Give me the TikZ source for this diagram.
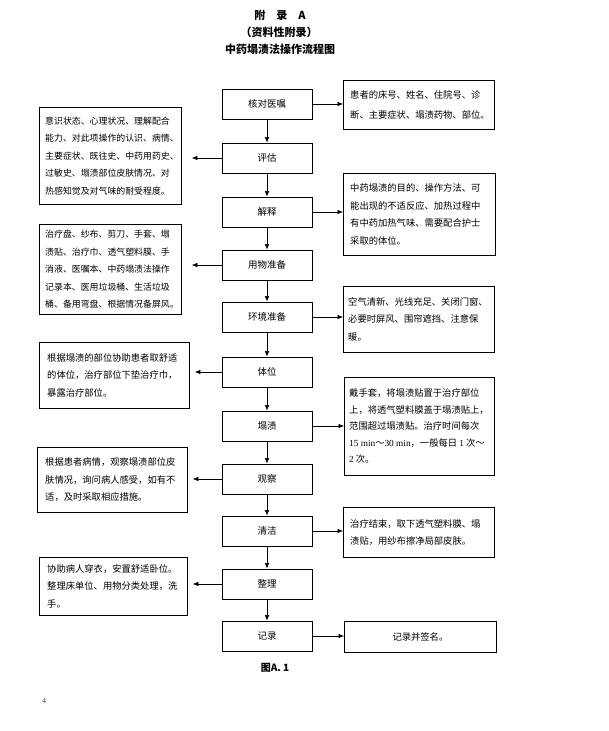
\documentclass[tikz,border=0pt]{standalone}
\usepackage{fontspec}
\setmainfont{Liberation Serif}
\newfontfamily\cjk{Noto Sans CJK SC}
\newfontfamily\lat{Liberation Serif}
\usetikzlibrary{arrows.meta}
\begin{document}
\begin{tikzpicture}[x=1pt,y=-1pt,
  box/.style={draw=black, line width=0.8pt, inner sep=0pt},
  core/.style={box, minimum width=90pt, minimum height=30pt, font=\cjk\fontsize{9.5}{11}\selectfont},
  txt/.style={align=left, inner sep=0pt, font=\cjk\fontsize{9.3}{17.5}\selectfont},
  txtn/.style={align=left, inner sep=0pt, font=\cjk\fontsize{8.9}{17.5}\selectfont},
  arr/.style={-{Latex[length=5.5pt,width=4.5pt]}, line width=0.6pt},
  ttl/.style={font=\cjk\bfseries\fontsize{11}{13}\selectfont, inner sep=0pt}]
\useasboundingbox (0,0) rectangle (608,731);
\fill[white] (0,0) rectangle (608,731);

% title
\node[ttl] (t1) at (280,15) {附\hspace{1em}录\hspace{1em}A};
\node[ttl] (t2) at (279,32) {（资料性附录）};
\node[ttl] (t3) at (280,49) {中药塌渍法操作流程图};

% core steps
\node[core] (C1) at (267,104) {核对医嘱};
\node[core] (C2) at (267,158) {评估};
\node[core] (C3) at (267,212) {解释};
\node[core] (C4) at (267,265) {用物准备};
\node[core] (C5) at (267,317) {环境准备};
\node[core] (C6) at (267,372) {体位};
\node[core] (C7) at (267,426) {塌渍};
\node[core] (C8) at (267,479) {观察};
\node[core] (C9) at (267,531) {清洁};
\node[core] (C10) at (267,584) {整理};
\node[core] (C11) at (267,636) {记录};

\foreach \a/\b in {C1/C2,C2/C3,C3/C4,C4/C5,C5/C6,C6/C7,C7/C8,C8/C9,C9/C10,C10/C11}
  \draw[arr] (\a.south) -- (\b.north);

% left boxes
\node[box, minimum width=142pt, minimum height=97pt, anchor=north west] (L1) at (39,107) {};
\node[txtn, anchor=west] (L1t) at ([xshift=6pt]L1.west) {意识状态、心理状况、理解配合\\能力、对此项操作的认识、病情、\\主要症状、既往史、中药用药史、\\过敏史、塌渍部位皮肤情况、对\\热感知觉及对气味的耐受程度。};

\node[box, minimum width=142pt, minimum height=90pt, anchor=north west] (L2) at (39,224) {};
\node[txtn, anchor=west] (L2t) at ([xshift=6pt]L2.west) {治疗盘、纱布、剪刀、手套、塌\\渍贴、治疗巾、透气塑料膜、手\\消液、医嘱本、中药塌渍法操作\\记录本、医用垃圾桶、生活垃圾\\桶、备用弯盘、根据情况备屏风。};

\node[box, minimum width=150pt, minimum height=66pt, anchor=north west] (L3) at (39,342) {};
\node[txt, anchor=west] (L3t) at ([xshift=8pt]L3.west) {根据塌渍的部位协助患者取舒适\\的体位，治疗部位下垫治疗巾，\\暴露治疗部位。};

\node[box, minimum width=150pt, minimum height=65pt, anchor=north west] (L4) at (37,447) {};
\node[txt, anchor=west] (L4t) at ([xshift=8pt]L4.west) {根据患者病情，观察塌渍部位皮\\肤情况，询问病人感受，如有不\\适，及时采取相应措施。};

\node[box, minimum width=148pt, minimum height=58pt, anchor=north west] (L5) at (39,557) {};
\node[txt, anchor=west] (L5t) at ([xshift=8pt]L5.west) {协助病人穿衣，安置舒适卧位。\\整理床单位、用物分类处理，洗\\手。};

% right boxes
\node[box, minimum width=151pt, minimum height=49pt, anchor=north west] (R1) at (343,80) {};
\node[txt, anchor=west, font=\cjk\fontsize{9.3}{20.5}\selectfont] (R1t) at ([xshift=7pt]R1.west) {患者的床号、姓名、住院号、诊\\断、主要症状、塌渍药物、部位。};

\node[box, minimum width=152pt, minimum height=82pt, anchor=north west] (R2) at (343,173) {};
\node[txt, anchor=west] (R2t) at ([xshift=7pt]R2.west) {中药塌渍的目的、操作方法、可\\能出现的不适反应、加热过程中\\有中药加热气味、需要配合护士\\采取的体位。};

\node[box, minimum width=151pt, minimum height=66pt, anchor=north west] (R3) at (343,286) {};
\node[txt, anchor=west] (R3t) at ([xshift=5pt]R3.west) {空气清新、光线充足、关闭门窗、\\必要时屏风、围帘遮挡、注意保\\暖。};

\node[box, minimum width=150pt, minimum height=98pt, anchor=north west] (R4) at (344,377) {};
\node[txt, anchor=west, font=\cjk\fontsize{9.3}{16.5}\selectfont] (R4t) at ([xshift=5pt]R4.west) {戴手套，将塌渍贴置于治疗部位\\上，将透气塑料膜盖于塌渍贴上，\\范围超过塌渍贴。治疗时间每次\\{\lat 15 min}～{\lat 30 min}，一般每日 {\lat 1} 次～\\{\lat 2} 次。};

\node[box, minimum width=151pt, minimum height=50pt, anchor=north west] (R5) at (343,507) {};
\node[txt, anchor=west] (R5t) at ([xshift=7pt]R5.west) {治疗结束，取下透气塑料膜、塌\\渍贴，用纱布擦净局部皮肤。};

\node[box, minimum width=152pt, minimum height=31pt, anchor=north west, font=\cjk\fontsize{9.3}{11}\selectfont] (R6) at (344,621) {记录并签名。};

% connectors to side boxes
\draw[arr] (C1.east) -- (C1.east -| R1.west);
\draw[arr] (C3.east) -- (C3.east -| R2.west);
\draw[arr] (C5.east) -- (C5.east -| R3.west);
\draw[arr] (C7.east) -- (C7.east -| R4.west);
\draw[arr] (C9.east) -- (C9.east -| R5.west);
\draw[arr] (C11.east) -- (C11.east -| R6.west);

\draw[arr, shorten >=10pt] (C2.west) -- (C2.west -| L1.east);
\draw[arr, shorten >=10pt] (C4.west) -- (C4.west -| L2.east);
\draw[arr, shorten >=5pt] (C6.west) -- (C6.west -| L3.east);
\draw[arr, shorten >=5pt] (C8.west) -- (C8.west -| L4.east);
\draw[arr, shorten >=5pt] (C10.west) -- (C10.west -| L5.east);

% caption and page number
\node[font=\cjk\bfseries\fontsize{10}{12}\selectfont, inner sep=0pt] (cap) at (275,668) {图A. 1};
\node[font=\lat\fontsize{8}{9}\selectfont, text=black!70, inner sep=0pt] (pg) at (44,701) {4};
\end{tikzpicture}
\end{document}
